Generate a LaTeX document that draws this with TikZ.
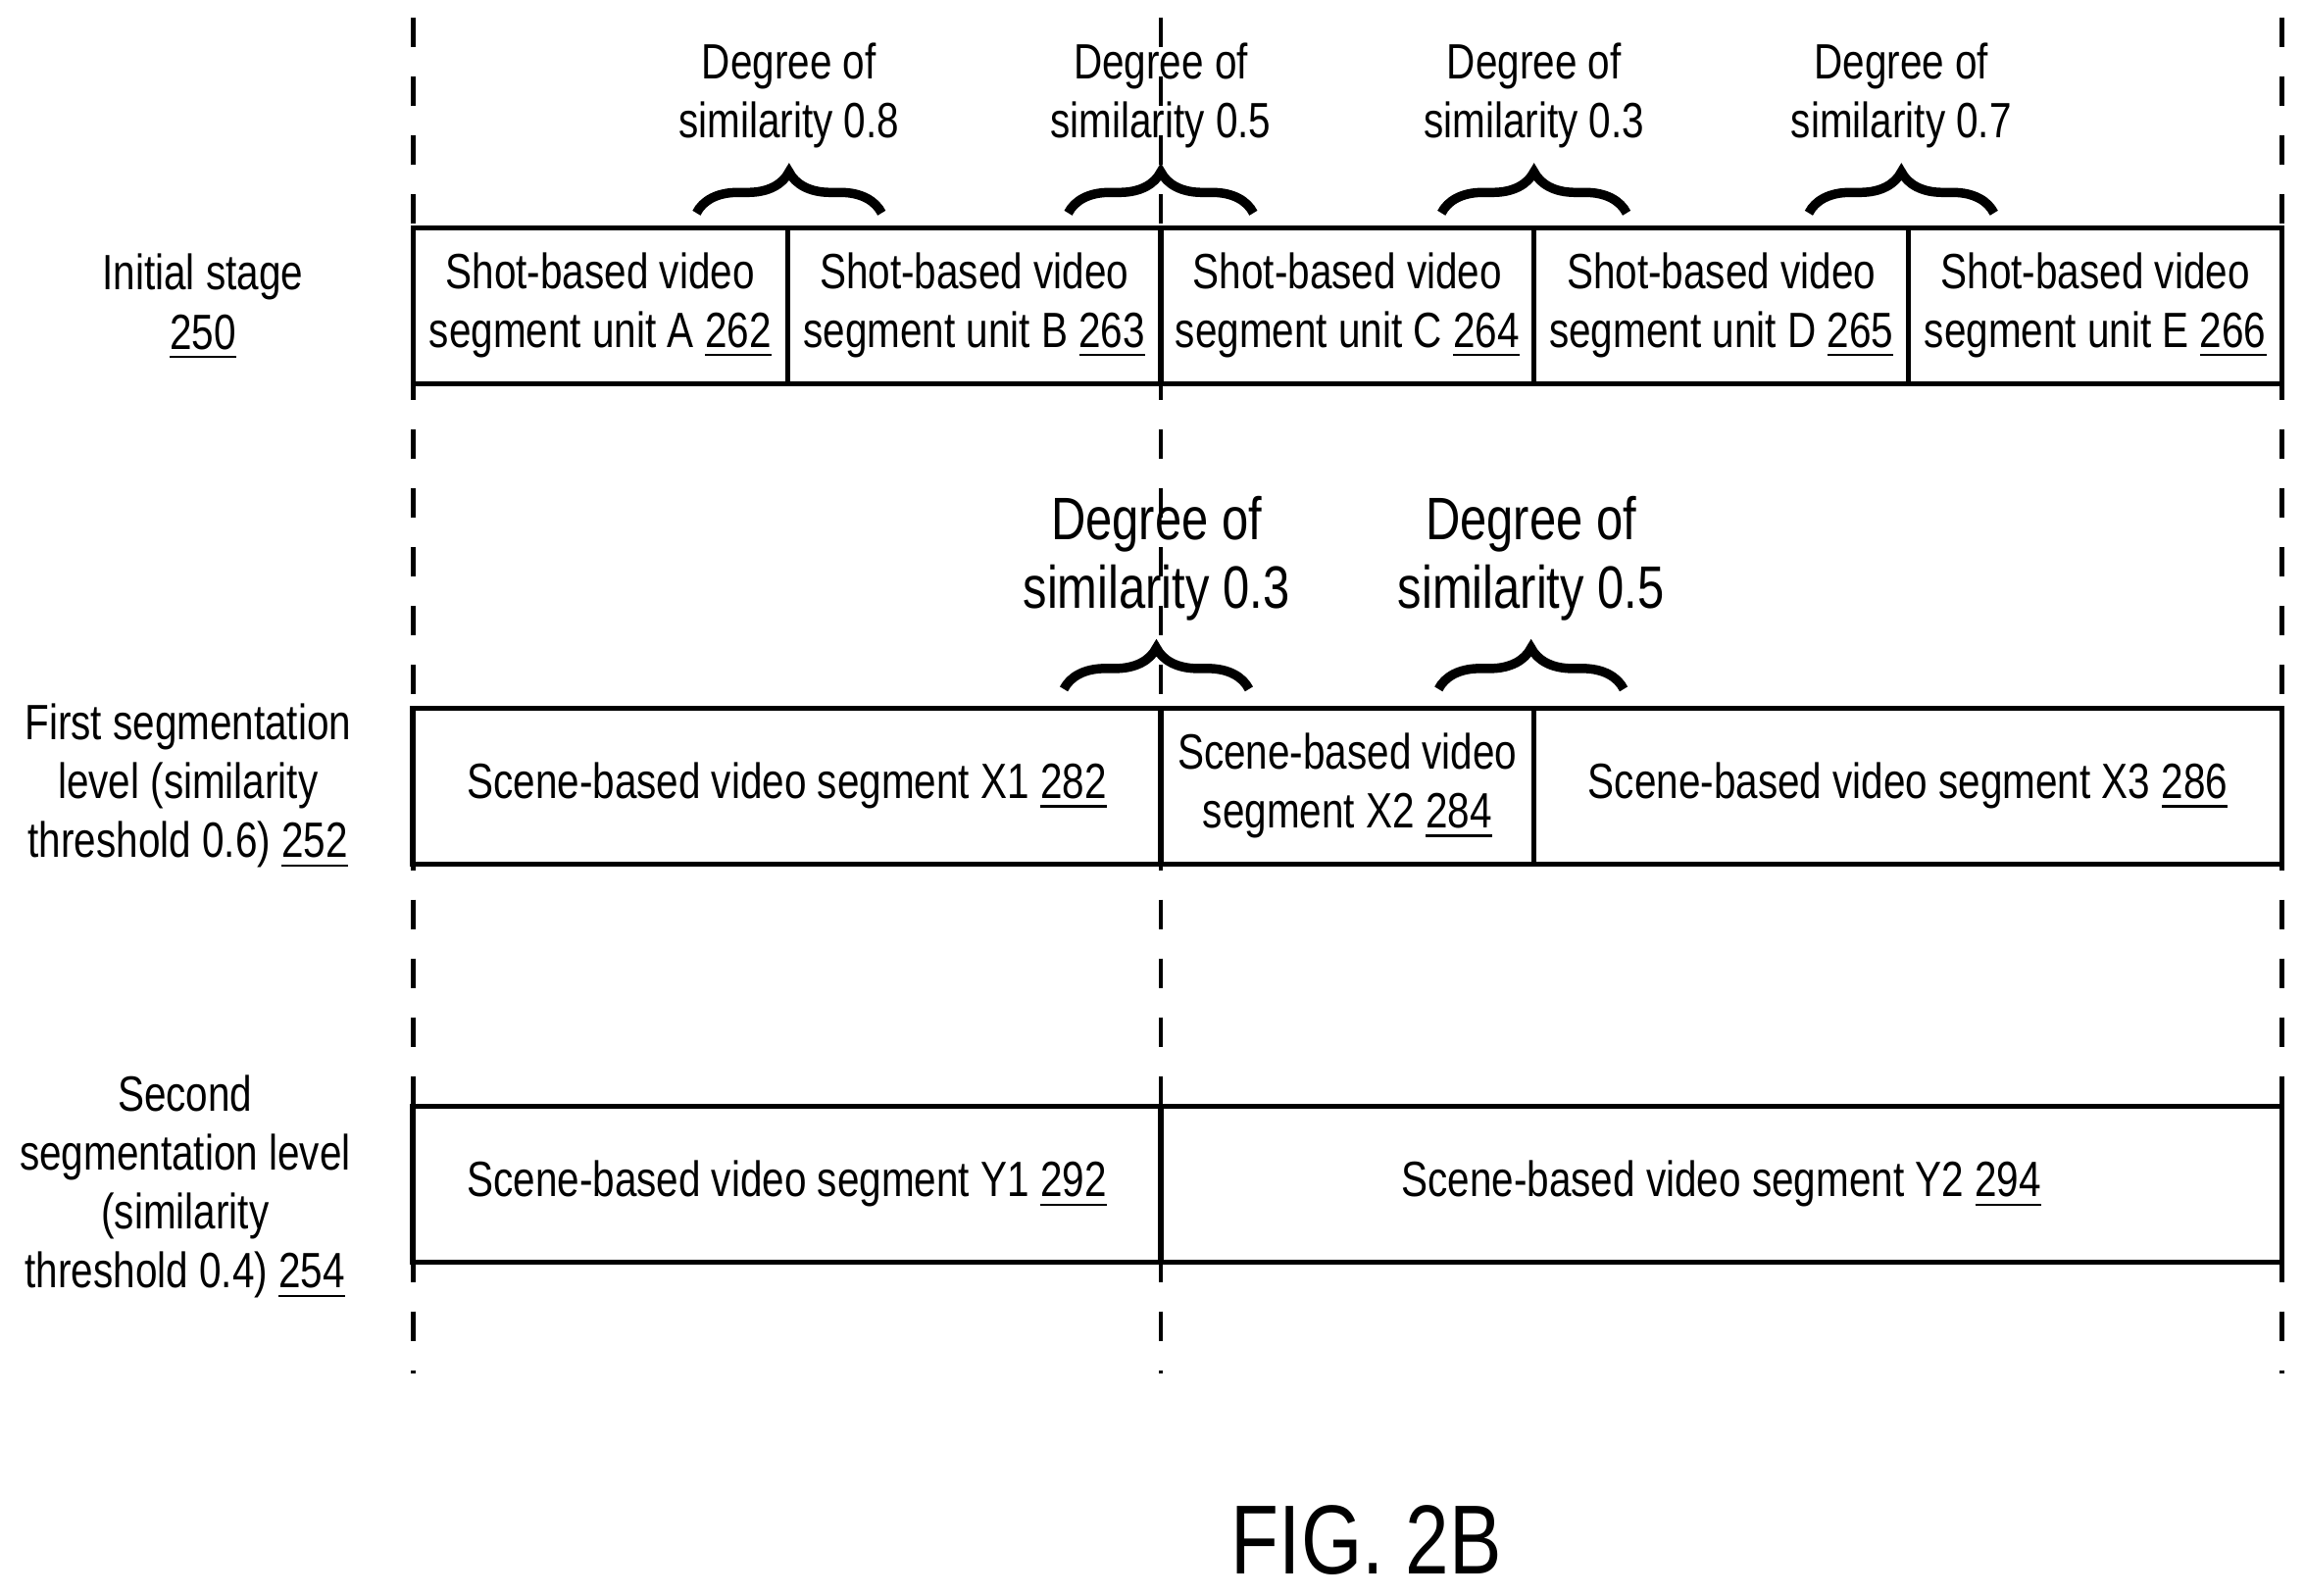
\documentclass[tikz,border=0pt]{standalone}
\usepackage{fontspec}
\setmainfont{Liberation Sans}[FakeStretch=0.8]
\usetikzlibrary{decorations.pathreplacing}
\tikzset{
 x=0.01cm,y=-0.01cm,
 seg/.style={draw,line width=1pt,minimum height=1.06cm,inner sep=0pt,align=center,font=\fontsize{9.6}{11.4}\selectfont},
 vline/.style={line width=0.9pt,dash pattern=on 0.2cm off 0.2cm},
 brc/.style={decorate,decoration={brace,amplitude=0.28cm},line width=1.8pt},
 lbl/.style={align=center,font=\fontsize{9.6}{11.4}\selectfont},
 lblbig/.style={align=center,font=\fontsize{11.6}{13.2}\selectfont},
}
\begin{document}
\begin{tikzpicture}
\useasboundingbox (0,0) rectangle (1568,1086);
% boxes row 1
\foreach \n/\a/\b/\t/\num in {A/281/536/A/262,B/536/790/B/263,C/790/1044/C/264,D/1044/1299/D/265,E/1299/1553/E/266}{
 \node[seg,minimum width=(\b-\a)*0.01cm] (s\n) at ({(\a+\b)/2},208) {Shot-based video\\segment unit \t{} \underline{\num}};
}
\node[seg,minimum width=5.09cm] (x1) at (535.5,535) {Scene-based video segment X1 \underline{282}};
\node[seg,minimum width=2.54cm] (x2) at (917,535) {Scene-based video\\segment X2 \underline{284}};
\node[seg,minimum width=5.09cm] (x3) at (1298.5,535) {Scene-based video segment X3 \underline{286}};
\node[seg,minimum width=5.09cm] (y1) at (535.5,806) {Scene-based video segment Y1 \underline{292}};
\node[seg,minimum width=7.63cm] (y2) at (1171.5,806) {Scene-based video segment Y2 \underline{294}};
% dashed lines
\foreach \x in {281,790,1553}{\draw[vline] (\x,12) -- (\x,935);}
% braces row 1
\foreach \c/\v in {537/0.8,790/0.5,1044/0.3,1294/0.7}{
 \draw[brc] (\c-63,145) -- (\c+63,145);
 \node[lbl] (d\c) at (\c,65) {Degree of\\similarity \v};
}
% braces row 2
\foreach \c/\v in {787/0.3,1042/0.5}{
 \draw[brc] (\c-63,469) -- (\c+63,469);
 \node[lblbig] (e\c) at (\c,380) {Degree of\\similarity \v};
}
% left labels
\node[lbl] (l0) at (138,209) {Initial stage\\\underline{250}};
\node[lbl] (l1) at (128,535) {First segmentation\\level (similarity\\threshold 0.6) \underline{252}};
\node[lbl] (l2) at (126,808) {Second\\segmentation level\\(similarity\\threshold 0.4) \underline{254}};
\node[font=\fontsize{19}{22}\selectfont] (fig) at (930,1048) {FIG. 2B};
\end{tikzpicture}
\end{document}
